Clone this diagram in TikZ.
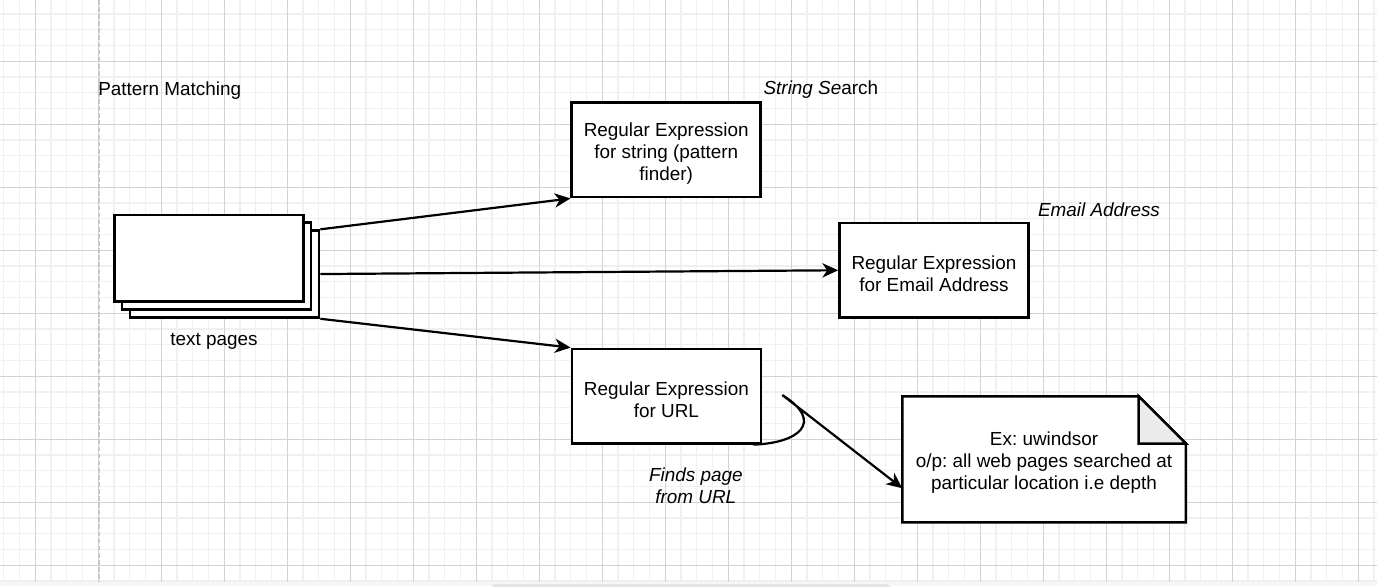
\documentclass[tikz,border=0pt]{standalone}
\usepackage{fontspec}
\setmainfont{Liberation Sans}
\usetikzlibrary{arrows.meta}
\frenchspacing
\definecolor{gridminor}{HTML}{F0F0F0}
\definecolor{gridmajor}{HTML}{D2D2D2}
\definecolor{pageline}{HTML}{C8C8C8}
\definecolor{foldgray}{HTML}{EBEBEB}
\definecolor{stripgray}{HTML}{F5F6F7}
\definecolor{scrollgray}{HTML}{E3E5E8}
\newcommand{\diagfont}{\fontsize{12}{14}\selectfont}
\newcommand{\toplift}{\rule{0pt}{12.8pt}}
\tikzset{
    every node/.style={font=\diagfont},
    regex/.style={draw, fill=white, line width=1.6pt, minimum width=120pt, minimum height=60pt, align=center, inner sep=0pt},
    sheet/.style={draw, fill=white, line width=1.8pt, minimum width=120pt, minimum height=55pt, inner sep=0pt},
    remark/.style={font=\diagfont\itshape, align=center, inner sep=0pt},
    flow/.style={line width=1.4pt, -{Stealth[length=10pt, width=9pt, inset=3pt]}},
}
\begin{document}
\begin{tikzpicture}[x=1pt, y=-1pt]
        \useasboundingbox (0,0) rectangle (874.3,372.1);
        \fill[white] (0,0) rectangle (874.3,372.1);
        \foreach \gx in {2.4,12.4,...,872.4} \draw[gridminor, line width=0.7pt] (\gx,0) -- (\gx,369.3);
        \foreach \gy in {8.9,18.9,...,368.9} \draw[gridminor, line width=0.7pt] (0,\gy) -- (874.3,\gy);
        \foreach \gx in {22.4,62.4,...,862.4} \draw[gridmajor, line width=0.7pt] (\gx,0) -- (\gx,369.3);
        \foreach \gy in {38.9,78.9,...,358.9} \draw[gridmajor, line width=0.7pt] (0,\gy) -- (874.3,\gy);
        \fill[stripgray] (0,369.3) rectangle (874.3,372.1);
        \fill[scrollgray, rounded corners=1.5pt] (312.4,370.9) rectangle (565.1,373);
        \draw[pageline, line width=1.2pt, dash pattern=on 3pt off 1.5pt] (62.9,0) -- (62.9,369.3);

        \node[anchor=west, inner sep=0pt] (title) at (62.2,57.6) {Pattern Matching};

        \node[sheet] (back) at (142.5,174) {};
        \node[sheet] (mid) at (137.5,169) {};
        \node[sheet] (front) at (132.5,164) {};
        \node[inner sep=0pt] (caption) at (135.9,216.9) {text pages};

        \node[regex] (strbox) at (423,95.2) {\toplift Regular Expression\\for string (pattern\\finder)};
        \node[remark] (strnote) at (521.2,57.2) {String Se\textup{arch}};
        \node[regex] (mailbox) at (593,171.6) {\toplift Regular Expression\\for Email Address};
        \node[remark] (mailnote) at (697.8,133.1) {Email Address};
        \node[regex] (urlbox) at (423.1,251.5) {\toplift Regular Expression\\for URL};
        \node[remark] (urlnote) at (441.8,308.3) {Finds page\\from URL};

        \filldraw[fill=white, line width=1.6pt] (572.9,251.6) -- (722.9,251.6) -- (752.9,281.6) -- (752.9,331.6) -- (572.9,331.6) -- cycle;
        \filldraw[fill=foldgray, line width=1.6pt] (722.9,251.6) -- (722.9,281.6) -- (752.9,281.6) -- cycle;
        \node[minimum width=180pt, minimum height=80pt, align=center, inner sep=0pt, outer sep=0pt] (note) at (662.9,291.6) {\toplift Ex: uwindsor\\o/p: all web pages searched at\\particular location i.e depth};

        \draw[flow] (back.north east) -- (strbox.south west);
        \draw[flow] (back.east) -- (mailbox.west);
        \draw[flow] (back.south east) -- (urlbox.north west);
        \draw[flow] ([xshift=-5.6pt]urlbox.south east) .. controls (507,281.4) and (524,268) .. (496.7,250.8) -- ([yshift=-18.4pt]note.west);
\end{tikzpicture}
\end{document}
